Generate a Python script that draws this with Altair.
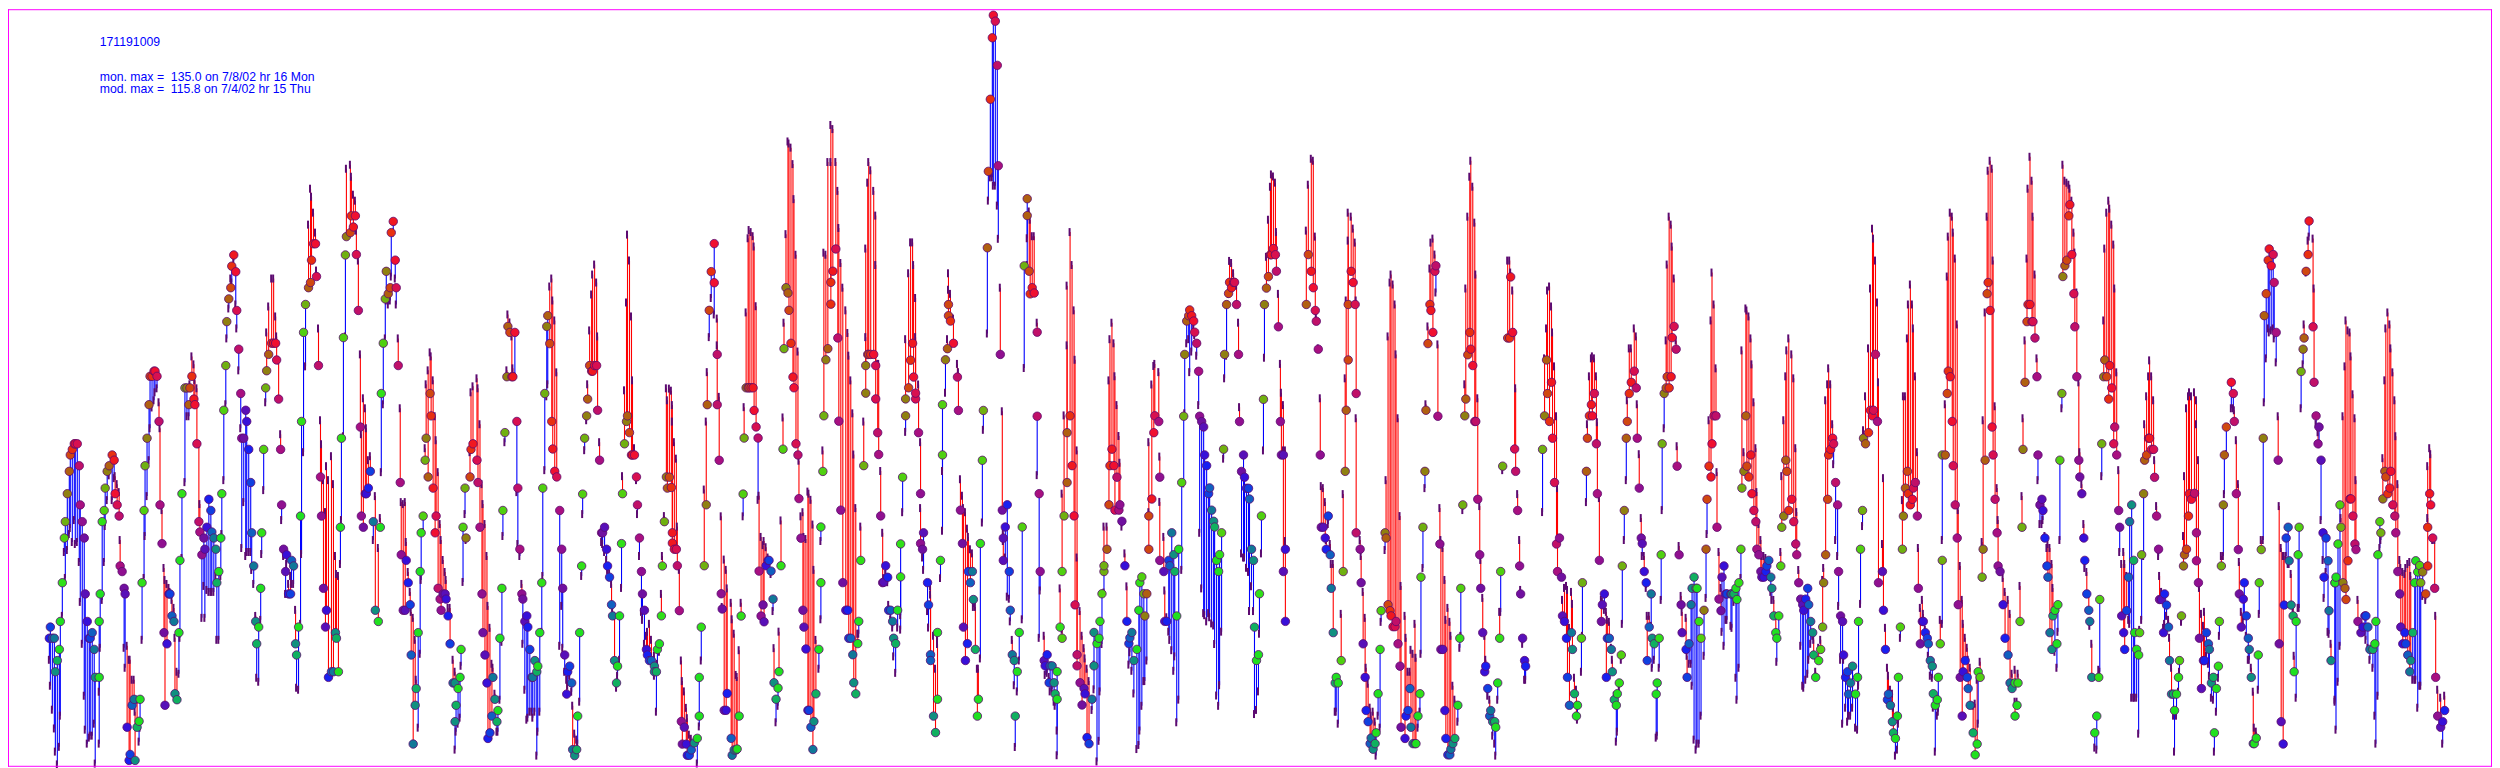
import altair as alt
import pandas as pd

# Readings, one table per stretch of the series:
# (time reading, monitor reading, model reading)
SPIKE = [(147,742,1000),(152,512,600),(157,295,530),(162,110,530),(167,42,555),(172,60,555),(177,193,615),(182,495,715)]
STRETCH_A = [(54,1246,1300),(61,1218,1365),(66,1246,1425),(70,1246,1472),(75,1330,1530),(80,1302,1562),(85,1274,1518),(91,1204,1440),(95,1107,1190),(100,995,1030),(106,954,1095),(110,884,1025),(115,828,985),(120,787,970),(125,773,1005),(130,759,950),(135,759,1010),(140,759,1005),(145,814,1055),(150,912,1155),(155,954,1260),(160,995,1390),(165,1135,1475),(171,1204,1510),(176,1246,1495),(181,1246,1490),(185,1232,1490),(190,1274,1460),(198,1344,1560),(205,1344,1510),(206,1204,1380),(211,1135,1270),(216,954,1150),(220,926,1055),(226,870,965),(232,828,900),(238,814,838),(247,787,900),(251,800,845),(256,884,840),(261,912,860),(265,940,880),(271,1065,1000),(276,1079,1065),(281,1121,1270),(286,1135,1320),(291,1469,1265),(296,1552,1300),(300,1537,1300),(305,1414,1350),(310,1399,1350),(316,1552,1430),(321,1469,1400),(326,1454,1505),(332,1399,1470),(338,1107,1250),(341,926,1095),(346,814,990),(351,745,890),(356,661,800),(361,590,720),(366,590,668),(372,577,650),(376,577,630),(381,590,620),(386,703,655),(391,912,720),(397,1009,925),(401,1232,1070),(406,1414,1100),(411,1260,1110),(415,1135,1120),(420,1135,1130),(425,1190,1150),(430,1204,1170),(436,1385,1245),(441,1400,1330),(446,1232,1335),(451,1051,1245),(457,884,1045),(464,619,855),(470,619,690),(475,661,690),(480,619,610),(485,590,540),(490,647,560),(495,661,600),(502,759,620),(506,954,760),(512,980,910),(516,1037,1195),(521,995,1115),(526,1023,1195),(532,968,1125),(537,898,1130),(541,926,1130),(546,980,1130),(551,995,1130),(557,1023,1090),(562,1107,1250),(566,1079,1250),(572,995,1090),(577,884,985),(581,675,850),(586,563,660),(591,453,495),(596,396,420),(600,368,345),(606,314,355),(611,286,300),(617,328,410),(622,425,470),(627,522,575),(631,633,720),(637,745,1020),(641,745,905),(647,675,1040),(652,703,1030),(657,773,1030),(662,856,1030),(667,982,1075),(672,1065,1110),(675,1204,1190),(681,1260,1345),(686,1218,1355),(691,1121,1200),(697,982,1035),(702,773,875),(707,619,655),(712,576,480),(718,535,415),(726,507,345),(732,507,345),(737,507,440),(742,549,490),(748,647,550),(752,773,735),(757,912,950),(762,1023,1040),(767,1079,1135),(772,1037,1060),(777,1135,1110),(782,1135,1090),(787,1051,1110),(792,1065,1110),(796,1260,1175),(802,1288,1370),(808,1218,1375),(812,940,1210),(817,703,1035),(823,480,780),(827,410,565),(835,368,210),(840,355,120),(847,299,140),(851,258,180),(857,258,230),(862,340,325),(868,563,470),(873,842,700),(878,940,760),(882,1121,850),(887,1218,930),(892,1176,815),(898,1344,850),(905,1330,790),(912,1330,860),(917,1232,1040),(922,1246,1085),(927,1330,1090),(933,968,1060),(937,745,950),(943,493,740),(947,286,490)]
STRETCH_B = [(-10,240,70),(0,230,60),(6,188,90),(11,216,135),(17,188,150),(22,285,225),(28,425,300),(33,717,535),(38,940,735),(43,968,645),(49,884,670),(54,884,720),(59,870,800),(64,828,790),(72,954,1000),(76,1176,890),(88,1204,1020),(93,968,945),(97,633,830),(103,507,660),(108,396,495),(113,327,400),(118,383,410),(123,368,400),(127,230,340),(133,202,230),(138,299,345),(143,368,410),(148,563,495),(153,856,670),(158,1037,905),(164,1176,910),(168,1176,905),(173,1051,1005),(178,1107,1080),(183,1162,1130),(188,1288,1180),(193,1511,1195),(198,1414,1250),(203,1372,1350),(208,1232,1470),(213,1079,1285),(218,982,1100),(223,940,980),(228,800,770),(233,745,610),(238,842,575),(243,633,530),(248,689,540),(253,870,600),(258,982,690),(263,940,750),(268,1121,830),(273,1148,960),(278,1176,1000),(283,1135,1050),(288,1135,1080),(293,1148,1100),(298,1190,1170),(304,1260,1170),(310,1358,1300),(315,1358,1330),(319,1455,1525),(322,1414,1480),(329,1372,1460),(334,1344,1445),(338,1274,1315),(344,968,1105),(349,870,935),(353,995,1000),(364,842,780),(368,773,630),(373,759,615),(381,800,595),(388,856,620),(393,968,710),(398,1135,860),(403,1232,910),(409,1288,960),(413,1358,1040),(418,1497,1165),(424,1483,1220),(428,1441,1310),(433,1344,1320),(438,1399,1385),(444,1455,1480),(449,1427,1480),(454,1246,1400),(458,1121,1255),(463,926,990),(468,731,755),(473,591,575),(478,465,435),(483,480,455),(488,591,490),(495,591,570),(499,480,590),(504,703,880),(509,870,1010),(514,1023,1040),(519,1135,1110),(524,1148,1260),(529,1204,1375),(534,1190,1450),(539,1218,1445),(544,1274,1430),(549,1344,1430),(554,1344,1445),(559,1302,1430),(565,1330,1540),(570,1316,1480),(574,1232,1430),(580,1107,1230),(584,870,1090),(590,633,825),(595,465,640),(599,438,610),(604,508,365),(609,703,345),(614,772,400),(619,828,450),(624,842,580),(632,926,1265),(640,1023,1165),(645,1121,1270),(650,1288,1330),(655,1386,1350),(658,1330,1365),(663,1316,1340),(669,1358,1380),(674,1525,1415),(679,1540,1485),(684,1525,1500),(689,1441,1510),(695,1232,1405),(700,1065,1090),(704,885,935),(709,745,775),(714,689,700),(719,647,610),(725,563,475),(730,577,385),(735,577,335),(740,563,310),(745,563,355),(750,675,490),(755,800,755),(760,982,1005),(764,982,1010),(770,968,1030),(775,1023,1050),(779,1065,1075),(784,1093,1085),(790,1162,1110),(795,1190,1170),(800,1302,1190),(805,1358,1370),(810,1316,1340),(815,1190,1300),(820,1009,1120),(824,884,840),(830,759,625),(835,703,405),(840,689,235),(845,731,300),(850,787,440),(855,787,600),(860,787,770),(865,842,850),(869,912,935),(875,995,1040),(880,1079,1180),(884,1135,1200),(889,1176,1260),(894,1274,1240),(899,1288,1230),(905,1302,1210),(910,1302,1250),(916,1316,1290),(920,1330,1340),(925,1330,1430),(930,1274,1310),(935,1260,1280),(940,1190,1135),(945,1065,1040),(949,954,940),(953,842,620),(958,870,650)]
STRETCH_C = [(3,865,650),(8,890,655),(11,1000,690),(15,1025,730),(20,1040,780),(25,1040,820),(30,1080,985),(35,1189,1090),(40,1458,1310),(45,1513,1360),(50,1472,1385),(55,1513,1425),(60,1540,1450),(65,1540,1490),(70,1527,1500),(78,1510,1510),(86,1499,1560),(91,1445,1470),(95,1351,1445),(100,1229,1310),(110,1080,895),(115,932,730),(120,689,610),(125,460,525),(130,366,430),(136,298,392),(140,393,470),(146,567,480),(150,689,545),(155,824,670),(160,1148,960),(165,1185,1180),(170,1431,1065),(175,1431,1090),(180,1390,1135),(187,1499,1170),(193,1540,1210),(198,1527,1245),(204,1527,1345),(209,1525,1350),(214,1445,1285),(220,1202,1170),(226,906,960),(230,770,695),(236,648,465),(241,648,285),(246,648,265),(251,648,270),(256,648,280),(261,703,305),(266,743,450),(271,770,920),(276,1093,910),(281,1202,1010),(286,1175,1030),(291,1216,1020),(295,1080,1035),(300,1067,1060),(305,1067,1075),(310,1093,1100),(315,1161,1190),(320,1364,1280),(325,1404,1460),(330,1377,1420),(335,1337,1240),(340,1080,970),(346,797,720),(350,553,490),(355,405,275),(360,418,50),(365,460,55),(370,540,65),(376,622,105),(380,648,190),(385,784,325),(391,811,560),(396,917,825),(401,1013,960),(406,1188,950),(410,1229,1010),(415,1282,1015),(421,1431,900),(425,1431,905),(431,1472,920),(436,1526,980),(440,1458,1090),(446,1391,1260),(452,1283,1330),(457,1121,1210),(461,986,1020),(466,851,800),(471,716,320),(475,580,325),(481,553,100),(487,445,100),(491,392,10),(496,365,20),(503,311,100),(511,527,170),(516,729,260),(521,945,345),(526,1121,405),(533,1188,460),(538,1188,515),(545,1256,570),(550,1256,630),(556,1296,710),(561,1364,810),(566,1391,940),(571,1269,1245),(576,1215,1245),(581,1067,985),(587,837,730),(592,661,525),(596,594,310),(601,567,150),(606,567,100),(611,567,120),(617,567,170),(622,594,230),(626,675,350),(631,757,590),(636,810,590),(641,959,850),(646,1121,1000),(650,1120,1110),(655,1080,1100),(659,1108,1120),(665,1188,1175),(670,1188,1210),(676,1215,1230),(681,1256,1300),(686,1269,1340),(691,1188,1230),(697,1107,1235),(700,1027,1200),(706,865,950),(712,716,755),(716,675,530),(722,648,370),(727,581,295),(732,540,295),(737,622,350),(742,675,430),(746,661,525),(752,757,640),(757,905,780),(761,1026,940),(766,1040,1060),(771,1000,1090),(777,1121,1190),(782,1175,1230),(787,1296,1130),(791,1310,1150),(797,1445,1250),(802,1485,1330),(807,1404,1270),(811,1242,1260),(817,1067,1110),(822,811,995),(826,689,850),(832,580,660),(837,553,530),(843,473,410),(846,446,370),(851,486,420),(860,540,480),(867,622,590),(872,703,610),(877,945,870),(882,1026,910),(887,1229,940),(893,1310,950),(897,1269,990),(902,1094,1010),(907,1121,1040),(912,1094,1050),(917,1162,1180),(922,1283,1180),(927,1445,1330),(932,1404,1330),(937,1026,1305),(943,824,975),(947,703,750)]
STRETCH_D = [(37,567,405),(42,945,705),(47,1013,1000),(52,1067,1020),(57,986,1060),(62,932,1155),(67,1094,1160),(72,1188,1215),(77,1296,1260),(82,1310,1370),(87,1445,1520),(92,1337,1385),(97,1242,1310),(103,986,1210),(112,352,600),(118,189,350),(122,230,285),(127,365,220),(132,420,240),(137,405,280),(142,418,280),(148,513,490),(152,717,860),(157,905,1255),(162,1094,1140),(168,1310,1250),(175,1323,1345),(178,1296,1340),(183,1364,1350),(188,1323,1385),(193,1323,1380),(198,1364,1410),(204,1391,1420),(208,1404,1540),(212,1337,1480),(218,1229,1135),(223,1256,1235),(227,1094,905),(232,959,715),(238,878,545),(242,757,400),(248,716,270),(253,837,350),(258,959,460),(263,1175,580),(268,1296,800),(272,1323,1060),(278,1364,1190),(284,1418,1250),(289,1378,1280),(295,1391,1305),(302,1497,1330),(307,1512,1360),(313,1404,1430),(318,1242,1320),(322,1323,1380),(328,1269,1555),(333,1256,1505),(338,1215,1385),(344,1148,1270),(348,1094,1145),(352,1080,985),(358,1040,985),(363,932,630),(368,837,530),(373,797,490),(378,837,540),(383,945,620),(388,865,690),(393,945,765),(398,932,830),(405,972,985),(413,1080,1050),(418,1215,1130),(424,1269,1320),(430,1255,1290),(434,1242,1335),(442,1310,1390),(448,1283,1525),(453,1188,1515),(458,1121,1480),(463,1107,1420),(470,1148,1360),(473,1202,1360),(478,1148,1310),(484,1040,950),(487,959,780),(493,918,640),(498,757,595),(503,716,590),(513,730,610),(518,865,815),(522,1067,925),(528,1094,1010),(534,1215,1140),(538,1215,1205),(543,1067,1240),(548,1080,1260),(553,1000,1285),(558,1053,1335),(564,1094,1300),(572,1202,1460),(577,1040,1405),(584,878,1090),(589,717,880),(593,567,710),(598,486,540),(603,473,530),(608,459,610),(613,473,560),(620,486,500),(623,513,520),(628,540,570),(633,608,690),(638,717,1000),(643,730,1135),(648,743,1195),(653,811,1200),(658,837,1215),(664,905,1195),(669,891,1205),(674,945,1220),(679,972,1225),(684,986,1270),(688,1067,1395),(694,1094,1420),(699,1053,1370),(704,1000,1240),(709,797,820),(713,567,625),(718,446,570),(724,419,420),(729,392,340),(734,405,345),(739,392,370),(744,392,400),(749,446,400),(754,567,490),(759,730,695),(764,851,1050),(769,811,1060),(774,865,1060),(779,892,1085),(784,892,1095),(789,918,1190),(794,1040,1130),(799,1067,1190),(804,1229,1440),(809,1310,1430),(814,1296,1385),(819,1148,1245),(824,959,1050),(829,676,800),(835,446,575),(840,406,330),(845,378,240),(850,325,160),(856,325,130),(861,310,135),(865,325,150),(870,365,270),(875,500,420),(880,730,590),(885,811,660),(890,811,690),(895,1040,800),(890,1094,800),(895,1215,1020)]
STRETCH_E = [(3,410,225),(8,285,110),(14,327,45),(19,368,50),(24,425,240),(29,452,440),(34,522,520),(39,787,645),(44,968,865),(49,968,870),(54,995,905),(59,1023,1000),(64,940,960),(69,1037,1010),(74,1121,1060),(80,1232,1060),(85,1358,1430),(90,1344,1430),(95,1358,1460),(104,1302,1185),(109,1079,885),(115,828,595),(119,675,400),(124,549,250),(128,410,180),(134,327,190),(139,355,220),(144,410,255),(149,633,400),(153,982,695),(159,1023,1000),(164,1107,1040),(169,1260,1130),(175,1344,1195),(179,1427,1320),(184,1455,1360),(190,1510,1420),(195,1496,1440),(200,1524,1430),(205,1510,1455),(209,1483,1540),(215,1385,1440),(220,1274,1470),(228,1177,1205),(235,982,1025),(240,995,850),(245,1162,490),(250,1177,355),(255,1190,335),(260,1217,360),(265,1217,410),(269,1204,535),(275,1260,695),(280,1316,940),(285,1469,1115),(295,1497,1190),(300,1441,1245),(305,1427,1330),(310,1372,1330),(315,1469,1275),(320,1510,1285),(325,1510,1210),(330,1510,1295),(335,1441,1470),(340,1385,1430),(345,1093,1285),(350,968,1070),(355,828,870),(360,675,660),(365,508,465),(370,410,320),(375,425,255),(380,480,245),(386,327,285),(391,313,380),(395,690,510),(400,1010,920),(405,1274,1000),(410,1274,1020),(415,1427,1100),(421,1497,1200),(426,1538,1170),(431,1538,1205),(436,1524,1240),(441,1510,1365),(447,1497,1400),(454,1414,1455),(460,1246,1270),(465,1121,1240),(470,912,925),(475,689,610),(480,647,370),(485,536,190),(490,480,90),(495,522,50),(500,563,115),(505,703,205),(510,703,335),(515,898,645),(520,1037,915),(526,1121,1050),(530,1232,1145),(535,1330,1240),(540,1316,1300),(545,1372,1390),(550,1441,1400),(556,1427,1440),(561,1455,1490),(566,1455,1510),(571,1469,1540),(575,1358,1400),(581,1246,1180),(586,1079,1180),(591,815,825),(605,494,300),(610,494,300),(616,341,330),(620,480,375),(625,772,480),(630,828,620),(635,926,885),(640,1065,1000),(646,1135,1125),(650,1246,1260),(655,1302,1350),(660,1316,1350),(710,773,930),(715,689,545),(721,549,470),(726,633,375),(731,703,365),(736,605,415),(741,745,480),(746,856,565),(751,1010,690),(757,1079,870),(761,995,1000),(766,1093,1085),(771,1190,1150),(776,1204,1120),(781,1246,1115),(786,1344,1125),(791,1414,1220),(796,1232,1130),(801,1274,1160),(806,1385,1345),(811,1441,1375),(817,1414,1450),(826,1246,1330),(832,1107,1240),(841,828,905),(847,745,710),(851,689,590),(856,661,545),(861,689,540),(866,633,545),(871,759,590),(877,884,705),(881,1051,895),(886,1204,1150),(891,1162,1155),(896,1135,1175),(902,1344,1180),(906,1246,1200),(911,1246,1205),(917,1274,1270),(922,1330,1300),(927,1400,1390),(932,1414,1505),(937,1385,1480),(942,1358,1370),(947,1288,1300),(951,1065,1210),(955,926,1000)]
STRETCH_F = [(2,745,850),(8,703,650),(12,633,520),(18,605,520),(25,577,470),(31,619,490),(37,745,660),(41,870,785),(45,995,945),(52,1009,1040),(56,1079,1040),(61,1107,1120),(67,1302,1190),(70,1218,1190),(77,1135,1215),(82,1246,1320),(86,1260,1300),(92,1386,1495),(97,1358,1490),(102,1246,1320),(107,1037,1150),(112,759,925),(116,633,720),(120,619,500),(125,591,310),(130,619,190),(137,591,210),(142,493,265),(148,465,345),(152,522,500),(157,815,765),(162,1037,1015),(167,1162,1140),(173,1232,1180),(180,1274,1195),(187,1344,1290),(192,1260,1310),(197,1162,1310),(202,1121,1365),(207,1093,1500),(212,1121,1525),(217,1121,1510),(222,1204,1510),(227,1246,1440),(235,1176,1290),(241,1023,1145),(247,898,985),(252,815,700),(257,842,450),(262,759,330),(268,689,410),(272,689,570),(277,968,830),(282,1148,1030),(287,1177,1120),(292,1093,1230),(298,1065,1265),(304,1135,1200),(309,1135,1200),(315,1135,1215),(321,1135,1220),(326,1135,1155),(332,1121,1345),(338,1149,1400),(343,1107,1320),(347,1023,1095),(352,870,525),(357,828,780),(362,689,420),(367,815,425),(372,842,440),(376,787,495),(382,884,560),(387,926,655),(392,954,770),(397,1023,880),(402,1037,960),(406,1079,1000),(410,1093,1040),(415,1093,1040),(420,1079,1045),(427,1065,1075),(432,1051,1090),(437,1093,1130),(442,1121,1150),(448,1190,1150),(453,1232,1190),(457,1246,1305),(463,1190,1235),(467,1065,1030),(473,968,840),(478,940,700),(483,800,590),(488,828,525),(493,926,495),(501,898,535),(508,954,595),(513,1010,770),(517,1037,930),(522,1107,1075),(527,1148,1265),(532,1162,1365),(537,1176,1370),(542,1148,1350),(548,1121,1335),(553,1162,1300),(558,1204,1260),(563,1232,1240),(568,1288,1250),(575,1344,1330),(584,1302,1270),(588,1274,1250),(592,1218,1100),(598,1107,1070),(603,1037,650),(608,898,610),(613,787,570),(618,773,610),(623,745,710),(628,759,810),(633,856,1000),(638,912,1040),(643,1079,1165),(648,1190,1300),(653,1204,1460),(658,1288,1300),(663,1344,1420),(668,1330,1455),(673,1386,1440),(678,1358,1440),(683,1316,1420),(692,1386,1470),(698,1344,1475),(703,1204,1365),(709,1023,1160),(713,926,965),(718,745,725),(724,759,640),(731,731,520),(737,675,370),(743,689,220),(748,675,245),(753,535,300),(758,703,405),(763,1107,605),(771,1079,1010),(778,1176,845),(783,1274,1220),(786,1400,1320),(792,1386,1340),(799,1414,1375),(803,1455,1385),(808,1483,1420),(813,1497,1540),(818,1441,1525),(823,1344,1460),(828,1218,1245),(832,1023,900),(838,940,640),(843,870,640),(848,828,495),(853,884,410),(858,912,360),(863,898,410),(868,870,470),(873,856,590),(878,940,780),(882,1121,1020),(889,1260,1170),(892,1204,1150),(897,1204,1185),(903,1232,1225),(909,1246,1240),(913,1260,1290),(918,1302,1340),(922,1316,1345),(927,1385,1420),(932,1414,1530),(937,1400,1440),(943,1344,1430),(949,1260,1200),(951,1051,1210),(954,787,1000)]
STRETCH_G = [(3,787,660),(8,633,340),(12,577,240),(17,591,180),(23,703,190),(28,814,230),(33,912,295),(38,995,460),(43,1162,925),(48,1344,1065),(53,1441,1150),(58,1330,1210),(64,1302,1245),(69,1344,1270),(74,1372,1300),(79,1414,1320),(86,1483,1415),(93,1538,1410),(98,1511,1350),(103,1330,1460),(109,1344,1305),(114,1093,1005),(119,1023,700),(124,800,430),(129,383,190),(134,355,75),(139,425,50),(144,717,70),(149,787,300),(154,898,665),(159,982,870),(164,1065,950),(168,1079,1080),(177,1162,1095),(184,1246,1130),(191,1288,1150),(197,1358,1185),(204,1372,1335),(211,1358,1325),(214,1441,1405),(220,1414,1405),(224,1358,1335),(229,1204,1115),(234,968,890),(239,773,695),(244,605,500),(250,453,295),(255,410,120),(260,410,40),(265,453,100),(269,453,190),(274,494,335),(279,591,545),(284,787,850),(289,912,960),(294,898,960),(299,926,950),(304,995,990),(310,1065,1020),(315,1093,1010),(320,1232,1020),(325,1274,1060),(330,1190,1120),(335,1176,1280),(340,1260,1320),(345,1162,1230),(349,800,1000),(355,633,670),(360,340,60),(364,313,100),(369,299,105),(374,188,110),(380,160,120),(385,285,150),(389,383,230),(394,466,280),(400,591,380),(404,800,605),(409,842,780),(415,884,860),(419,995,960),(425,1051,1070),(430,1135,1080),(434,1176,1135),(439,1204,1215),(445,1344,1260),(454,1483,1520),(460,1441,1525),(464,1344,1325),(470,1149,1330),(475,759,840),(480,591,450),(485,549,270),(491,591,180),(495,647,150),(500,563,170),(505,619,210),(510,759,260),(515,717,370),(520,787,580),(525,926,825),(530,968,1030),(535,1190,1060),(540,1232,1030),(545,1274,1060),(550,1177,1090),(555,1093,1200),(560,954,1210),(565,912,1395),(570,1051,1395),(575,1232,1395),(580,1274,1395),(585,1288,1485),(590,1232,1225),(595,1037,1200),(600,884,1040),(605,800,710),(610,787,640),(615,745,590),(620,745,550),(625,773,590),(628,773,650),(635,843,800),(640,940,915),(645,1023,1040),(650,1149,1090),(655,1149,1130),(660,1232,1220),(665,1135,1210),(670,1163,1190),(675,1218,1200),(680,1302,1245),(685,1386,1320),(690,1386,1440),(695,1427,1530),(700,1386,1440),(705,1344,1380),(710,1302,1330),(716,1190,1205),(721,1065,990),(726,1037,840),(731,1023,670),(736,940,640),(741,884,630),(746,898,640)]
STRETCH_H = [(3,883,630),(7,982,650),(10,1052,710),(15,1107,800),(20,1246,1120),(25,1372,1185),(30,1302,1215),(35,1302,1180),(40,1232,1290),(45,1260,1310),(50,1274,1340),(55,1358,1395),(60,1344,1400),(65,1483,1530),(70,1372,1430),(76,1316,1345),(80,1204,1240),(85,1065,1040),(91,912,1040),(95,787,885),(100,717,785),(116,605,670),(121,633,670),(125,703,675),(130,884,750),(136,1024,860),(140,1135,1055),(145,1218,1180),(150,1148,1200),(155,1107,1190),(160,1190,1240),(165,1246,1300),(170,1274,1300),(175,1344,1320),(181,1510,1380),(186,1510,1470),(190,1496,1480),(196,1288,1375),(200,1107,1185),(205,1024,1000),(210,745,1000),(216,438,655),(220,383,545),(226,299,470),(231,271,480),(236,313,475),(241,285,470),(246,355,495),(250,480,555),(256,800,690),(261,1260,915),(266,1455,1020),(271,1511,1040),(276,1163,1040),(281,995,1040),(286,968,1060),(291,1052,1060),(296,1163,1085),(301,1190,1170),(306,1330,1290),(311,1204,1395),(316,1037,1170),(321,968,1170),(326,578,670),(331,522,560),(336,494,460),(341,327,330),(346,285,250),(351,201,240),(358,466,245),(366,605,370),(371,689,710),(376,759,730),(381,717,760),(386,800,950),(390,982,1050),(396,1093,1145),(401,995,1080),(406,1052,1230),(410,1177,1235),(416,1302,1260),(422,1107,1400),(426,1107,1405),(431,1093,1475),(436,1010,1355),(441,912,1265),(446,968,945),(451,1107,690),(456,1121,565),(460,1149,450),(465,1052,475),(470,897,480),(476,897,540),(482,940,635),(487,1010,695),(491,1024,850),(497,1204,1150),(503,1232,1220),(508,1218,1230),(515,1190,1230),(521,1190,1250),(526,1218,1270),(531,1274,1300),(541,1274,1320),(546,1260,1440),(551,1204,1510),(557,1037,1390),(562,954,1020),(566,982,1000),(571,897,795),(576,828,600),(581,842,470),(586,884,430),(591,870,460),(596,828,520),(601,912,580),(607,940,650),(611,982,740),(616,1079,860),(621,1135,1050),(626,1218,1070),(632,1260,1080),(636,1232,1085),(642,1260,1070),(647,1288,1060),(652,1330,1055),(657,1302,1090),(662,1232,1350),(666,1107,1350),(672,1052,1350),(677,1080,1420),(682,1064,1365),(687,1107,1365),(692,1080,1140),(698,1135,1150),(703,1065,945),(707,968,815),(711,884,770),(717,912,785),(722,995,1000),(727,1121,1000),(732,1344,1190),(737,1441,1375),(745,1469,1395),(750,1455,1510),(757,1427,1390)]

# Where each stretch sits: (series, first time, first level, time per step, level per step)
STRETCHES = [
    (SPIKE, 940, 0, 3.0, 3.0),
    (STRETCH_A, 30, 140, 3.0, 1568 / 628),
    (STRETCH_B, 350, 140, 3.0, 1568 / 628),
    (STRETCH_C, 670, 120, 3.0, 1568 / 648),
    (STRETCH_D, 990, 120, 3.0, 1568 / 648),
    (STRETCH_E, 1310, 140, 3.0, 1568 / 628),
    (STRETCH_F, 1630, 140, 3.0, 1568 / 628),
    (STRETCH_G, 1950, 140, 3.0, 1568 / 628),
    (STRETCH_H, 2200, 140, 3.0, 1568 / 628),
]

HOUR_COLORS = ["#20e020","#20e020","#30e018","#50d010","#70b010","#908010","#b06010","#d04810",
               "#e83010","#f01820","#f01030","#d81050","#c01068","#a81080","#901090","#7010a0",
               "#5810b8","#3810d8","#1820f0","#1040e0","#1060c0","#107898","#109080","#10b060"]
STEP = 40.05 / 24
rows = []
for series, x0, y0, sx, sy in STRETCHES:
    for t, mon, mod in series:
        px = x0 + t / sx
        hour = round((px - 98.7) / STEP)
        rows.append({
            "hour": hour,
            "hod": hour % 24,
            "mon": (765 - (y0 + mon / sy)) / 5.56,
            "mod": (765 - (y0 + mod / sy)) / 5.56,
        })
df = pd.DataFrame(rows)
df["side"] = ["over" if m > o else "under" for m, o in zip(df["mod"], df["mon"])]

x_scale = alt.Scale(domain=[(8 - 98.7) / STEP, (2500 - 98.7) / STEP], nice=False, zero=False, round=True)
y_scale = alt.Scale(domain=[(765 - 768) / 5.56, (765 - 8) / 5.56], nice=False, zero=False)
X = alt.X("hour:Q", scale=x_scale, axis=None)
Y = alt.Y("mon:Q", scale=y_scale, axis=None)

rules = alt.Chart(df).mark_rule(strokeWidth=1.1, xOffset=0.5).encode(
    x=X, y=Y, y2="mod:Q",
    stroke=alt.Stroke("side:N", scale=alt.Scale(domain=["over", "under"], range=["#ff0000", "#0000ff"]), legend=None),
)
ticks = alt.Chart(df).mark_tick(orient="vertical", size=8, thickness=2, color="#5c0a70", opacity=1).encode(
    x=X, y=alt.Y("mod:Q", scale=y_scale, axis=None),
)
dots = alt.Chart(df).mark_circle(size=72, opacity=1, stroke="#5c0a70", strokeWidth=0.8, xOffset=0.5).encode(
    x=X, y=Y,
    fill=alt.Fill("hod:O", scale=alt.Scale(domain=list(range(24)), range=HOUR_COLORS), legend=None),
)

GAP = "\u00a0\u00a0"
TITLE_LINES = ["171191009", f"mon. max ={GAP}135.0 on 7/8/02 hr 16 Mon", f"mod. max ={GAP}115.8 on 7/4/02 hr 15 Thu"]
TITLE_Y = [37, 72, 84]
def label(text, y):
    return alt.Chart(pd.DataFrame({"t": [text]})).mark_text(
        align="left", baseline="alphabetic", font="Liberation Sans", fontSize=12.3, color="#0000ff"
    ).encode(text="t:N", x=alt.value(92), y=alt.value(y))
labels = [label(t, y) for t, y in zip(TITLE_LINES, TITLE_Y)]

def edge(**channels):
    return alt.Chart(pd.DataFrame({"a": [0]})).mark_rule(color="#ff00ff", strokeWidth=1).encode(**channels)
border = [
    edge(x=alt.value(0.5), y=alt.value(0), y2=alt.value(760)),
    edge(x=alt.value(2491.5), y=alt.value(0), y2=alt.value(760)),
    edge(y=alt.value(0.5), x=alt.value(0), x2=alt.value(2492)),
    edge(y=alt.value(759.5), x=alt.value(0), x2=alt.value(2492)),
]

chart = alt.layer(rules, ticks, dots, *labels, *border).resolve_scale(
    stroke="independent", fill="independent", color="independent"
).properties(
    width=2492, height=760, padding=0, autosize=alt.AutoSizeParams(type="none"), background="white"
).configure_view(stroke=None)
chart.save("out.html", embed_options={"renderer": "svg", "actions": False})
